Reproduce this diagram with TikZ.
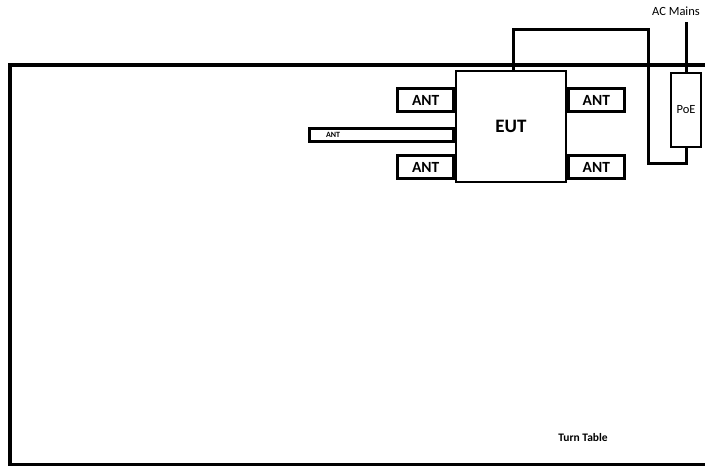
\documentclass[tikz,border=0pt]{standalone}
\usepackage{fontspec}
\setmainfont{Carlito}
\usetikzlibrary{positioning}

\begin{document}
\begin{tikzpicture}[
  x=1pt, y=-1pt,
  eutbox/.style={draw, line width=1.8pt, fill=white, minimum width=110pt, minimum height=111pt, inner sep=0pt, font=\fontsize{19}{19}\selectfont\bfseries},
  antbox/.style={draw, line width=2.8pt, fill=white, minimum width=56pt, minimum height=23pt, inner sep=0pt, font=\fontsize{15.5}{15.5}\selectfont\bfseries},
  antbar/.style={draw, line width=3.2pt, minimum width=144pt, minimum height=13pt, inner sep=0pt},
  poebox/.style={draw, line width=2.8pt, fill=white, minimum width=30pt, minimum height=74pt, inner sep=0pt, font=\fontsize{12.5}{12.5}\selectfont},
  cable/.style={line width=3pt},
  tlabel/.style={font=\fontsize{#1}{#1}\selectfont, inner sep=0pt}
]
  \useasboundingbox (0,0) rectangle (705,466);
  \clip (0,0) rectangle (705,466);

  % Turn table
  \draw[line width=3.6pt] (720,65) -- (10,65) -- (10,464.5) -- (720,464.5);
  \node[tlabel=11.5, font=\fontsize{11.5}{11.5}\selectfont\bfseries] (turntable) at (583,438) {Turn Table};

  % EUT and antennas
  \node[eutbox] (eut) at (511,126.5) {EUT};
  \node[antbox, anchor=east] (antlt) at (eut.west |- 0,100) {ANT};
  \node[antbox, anchor=east] (antlb) at (eut.west |- 0,167) {ANT};
  \node[antbox, anchor=west] (antrt) at (eut.east |- 0,100) {ANT};
  \node[antbox, anchor=west] (antrb) at (eut.east |- 0,167) {ANT};
  \node[antbar, anchor=east] (antlong) at (eut.west |- 0,135) {};
  \node[tlabel=8, font=\fontsize{8}{8}\selectfont\bfseries, right=18pt of antlong.west] (antlonglbl) {ANT};

  % PoE and mains
  \node[poebox] (poe) at (686,110) {PoE};
  \node[tlabel=12.5] (acmains) at (676,11) {AC Mains};
  \coordinate (loopa) at (648,29);
  \coordinate (loopb) at (648,163);
  \draw[cable] ([xshift=2pt]eut.north) |- (loopa) -- (loopb) -| (poe.south);
  \draw[cable] (poe.north) -- (poe.north |- 0,22);
\end{tikzpicture}
\end{document}
